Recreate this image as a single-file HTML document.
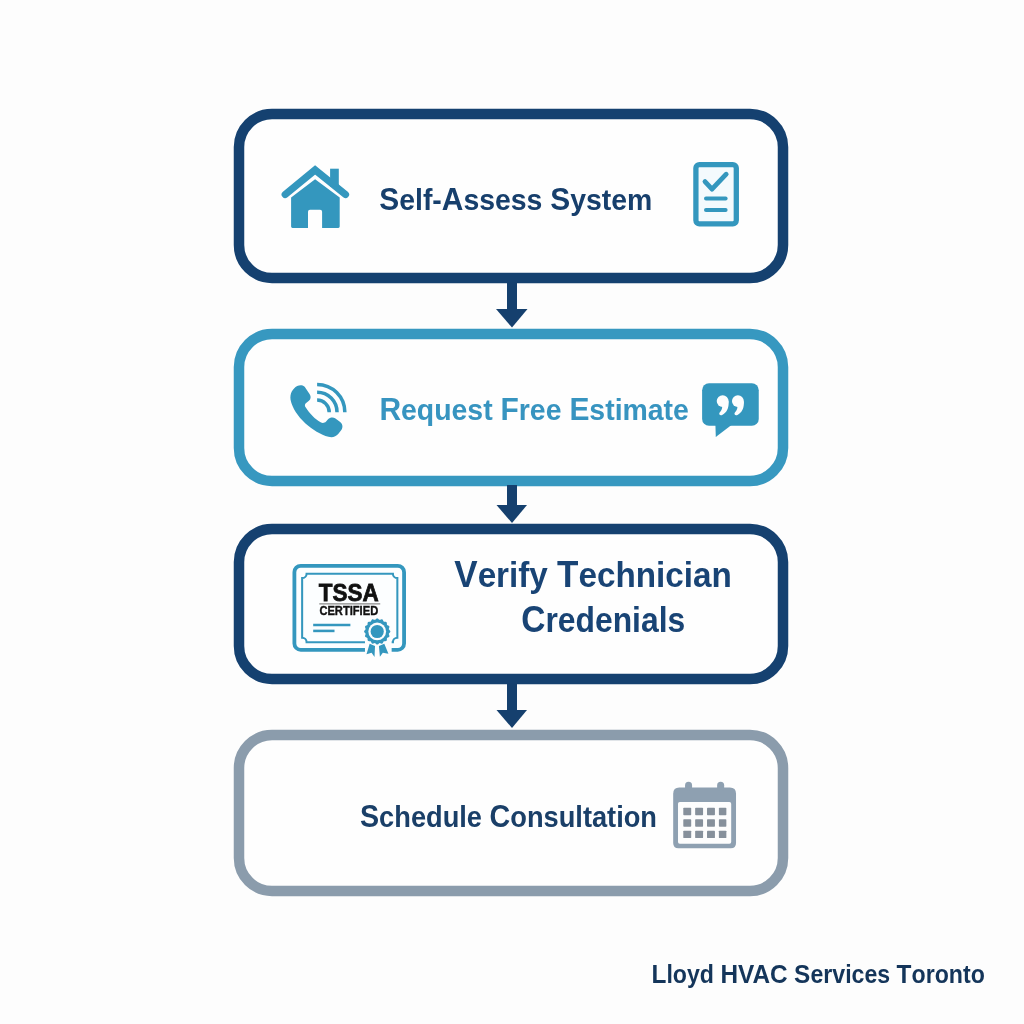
<!DOCTYPE html>
<html><head><meta charset="utf-8">
<style>
html,body{margin:0;padding:0;width:1024px;height:1024px;overflow:hidden;background:#fdfdfd;}
svg{position:absolute;left:0;top:0;will-change:transform;}
text{font-family:"Liberation Sans",sans-serif;font-weight:bold;}
</style></head>
<body>
<svg width="1024" height="1024" viewBox="0 0 1024 1024">
<rect x="0" y="0" width="1024" height="1024" fill="#fdfdfd"/>
<!-- boxes -->
<rect x="239" y="114" width="544" height="164" rx="33" ry="33" fill="#fefefe" stroke="#154170" stroke-width="10.5"/>
<rect x="239" y="334" width="544" height="147" rx="33" ry="33" fill="#fefefe" stroke="#3798c0" stroke-width="10.5"/>
<rect x="239" y="529" width="544" height="150" rx="33" ry="33" fill="#fefefe" stroke="#154170" stroke-width="10.5"/>
<rect x="239" y="735" width="544" height="156" rx="33" ry="33" fill="#fefefe" stroke="#8b9cac" stroke-width="10.5"/>
<!-- arrows -->
<g fill="#15406e">
<rect x="507" y="282" width="10" height="28"/><polygon points="496,309 527.5,309 512,327.5"/>
<rect x="507" y="485" width="10" height="21"/><polygon points="496.5,505 527,505 512,523"/>
<rect x="507" y="683" width="10" height="28"/><polygon points="496.5,710 527,710 512,728"/>
</g>

<!-- house icon -->
<g fill="#3497be">
<polyline points="285.2,194.5 315.1,169.9 345.5,194.5" fill="none" stroke="#3497be" stroke-width="7.2" stroke-linecap="round" stroke-linejoin="miter"/>
<rect x="330.1" y="168.7" width="8.7" height="18"/>
<path d="M291.1,197.4 L315.1,179.3 L339.7,197.4 L339.7,226.5 Q339.7,227.9 338.3,227.9 L322.1,227.9 L322.1,211.7 Q322.1,209.7 320.1,209.7 L310,209.7 Q308,209.7 308,211.7 L308,227.9 L292.5,227.9 Q291.1,227.9 291.1,226.5 Z"/>
</g>
<!-- checklist icon -->
<g fill="none" stroke="#3497be" stroke-linecap="round" stroke-linejoin="round">
<rect x="695.9" y="164.6" width="40.4" height="59.2" rx="3.5" fill="#f4fafd" stroke-width="5.3"/>
<polyline points="705,181.6 712,189.2 726.2,174.2" stroke-width="4.8" stroke-linecap="round" stroke-linejoin="round"/>
<line x1="706" y1="198.4" x2="725.6" y2="198.4" stroke-width="4"/>
<line x1="706" y1="210" x2="725.6" y2="210" stroke-width="4"/>
</g>
<text x="379.3" y="210.1" font-size="31.6" fill="#173f6c" textLength="273" lengthAdjust="spacingAndGlyphs">S<tspan font-size="30.02">elf-</tspan>A<tspan font-size="30.02">ssess </tspan>S<tspan font-size="30.02">ystem</tspan></text>

<!-- phone icon -->
<g transform="translate(280,370) scale(0.078125)">
<path fill="#3497be" d="M265,195 C290,190 310,205 320,220 L380,310 C400,340 395,375 370,395 L330,425 C315,440 315,460 330,480 C380,560 450,630 520,670 C545,685 570,680 590,660 L615,630 C640,605 680,600 710,620 L770,665 C810,695 805,745 780,775 L745,820 C715,855 670,870 620,855 C430,800 180,600 135,380 C125,300 160,240 220,205 C235,197 250,195 265,195 Z"/>
<g fill="none" stroke="#3497be" stroke-width="45">
<path d="M475,385 A155,155 0 0 1 630,540"/>
<path d="M475,285 A255,255 0 0 1 730,540"/>
<path d="M475,185 A355,355 0 0 1 830,540"/>
</g>
</g>
<text x="379.4" y="420.3" font-size="30.5" fill="#3794c0" textLength="309.5" lengthAdjust="spacingAndGlyphs">R<tspan font-size="28.97">equest </tspan>F<tspan font-size="28.97">ree </tspan>E<tspan font-size="28.97">stimate</tspan></text>
<!-- bubble icon -->
<g transform="translate(690,370) scale(0.078125)">
<rect x="155" y="170" width="725" height="545" rx="88" fill="#3497be"/>
<polygon points="325,690 548,690 330,858" fill="#3497be"/>
<g fill="#fdfdfd">
<circle cx="418" cy="398" r="76"/>
<path d="M494,398 C502,485 468,552 412,575 C382,586 362,562 382,540 C402,518 414,495 412,460 Z"/>
<circle cx="613" cy="398" r="76"/>
<path d="M689,398 C697,485 663,552 607,575 C577,586 557,562 577,540 C597,518 609,495 607,460 Z"/>
</g>
</g>

<!-- certificate -->
<g transform="translate(285,555) scale(0.12695)">
<rect x="74" y="85" width="864" height="662" rx="50" fill="#fcfeff" stroke="#3497be" stroke-width="30"/>
<path d="M170,147 L850,147 A35,35 0 0 0 885,182 L885,652 A35,35 0 0 0 850,687 L170,687 A35,35 0 0 0 135,652 L135,182 A35,35 0 0 0 170,147 Z" fill="none" stroke="#3497be" stroke-width="16"/>
<text x="266" y="359" font-size="194" fill="#111" stroke="#111" stroke-width="6" textLength="472" lengthAdjust="spacingAndGlyphs">TSSA</text>
<line x1="270" y1="385" x2="750" y2="385" stroke="#888" stroke-width="9"/>
<text x="271" y="469" font-size="94" fill="#111" stroke="#111" stroke-width="3" textLength="463" lengthAdjust="spacingAndGlyphs">CERTIFIED</text>
<line x1="222" y1="552" x2="515" y2="552" stroke="#3497be" stroke-width="20"/>
<line x1="222" y1="598" x2="390" y2="598" stroke="#3497be" stroke-width="20"/>
<rect x="630" y="640" width="210" height="140" fill="#fdfdfd"/>
</g>
<g transform="translate(355,610) scale(0.048828)">
<circle cx="455" cy="440" r="290" fill="#fdfdfd"/>
<g fill="#3497be">
<path d="M300,690 L410,735 L400,965 L340,875 L235,905 Z"/>
<path d="M600,690 L490,735 L510,955 L570,875 L685,895 Z"/>
</g>
<path d="M455.0,171.0 L460.3,171.7 L465.5,173.7 L470.5,176.8 L475.4,180.8 L480.1,185.2 L484.6,189.8 L489.0,194.0 L493.4,197.5 L497.8,200.2 L502.4,201.7 L507.2,202.0 L512.3,201.3 L517.7,199.7 L523.4,197.5 L529.3,195.0 L535.3,192.7 L541.4,190.9 L547.2,190.0 L552.8,190.1 L557.9,191.5 L562.5,194.1 L566.6,198.0 L570.1,202.8 L573.0,208.3 L575.7,214.2 L578.1,220.1 L580.6,225.7 L583.3,230.7 L586.4,234.8 L590.0,238.0 L594.3,240.1 L599.3,241.4 L604.9,242.0 L611.0,242.1 L617.4,242.1 L623.9,242.3 L630.1,242.9 L635.9,244.3 L641.0,246.5 L645.2,249.8 L648.5,254.0 L650.7,259.1 L652.1,264.9 L652.7,271.1 L652.9,277.6 L652.9,284.0 L653.0,290.1 L653.6,295.7 L654.9,300.7 L657.0,305.0 L660.2,308.6 L664.3,311.7 L669.3,314.4 L674.9,316.9 L680.8,319.3 L686.7,322.0 L692.2,324.9 L697.0,328.4 L700.9,332.5 L703.5,337.1 L704.9,342.2 L705.0,347.8 L704.1,353.6 L702.3,359.7 L700.0,365.7 L697.5,371.6 L695.3,377.3 L693.7,382.7 L693.0,387.8 L693.3,392.6 L694.8,397.2 L697.5,401.6 L701.0,406.0 L705.2,410.4 L709.8,414.9 L714.2,419.6 L718.2,424.5 L721.3,429.5 L723.3,434.7 L724.0,440.0 L723.3,445.3 L721.3,450.5 L718.2,455.5 L714.2,460.4 L709.8,465.1 L705.2,469.6 L701.0,474.0 L697.5,478.4 L694.8,482.8 L693.3,487.4 L693.0,492.2 L693.7,497.3 L695.3,502.7 L697.5,508.4 L700.0,514.3 L702.3,520.3 L704.1,526.4 L705.0,532.2 L704.9,537.8 L703.5,542.9 L700.9,547.5 L697.0,551.6 L692.2,555.1 L686.7,558.0 L680.8,560.7 L674.9,563.1 L669.3,565.6 L664.3,568.3 L660.2,571.4 L657.0,575.0 L654.9,579.3 L653.6,584.3 L653.0,589.9 L652.9,596.0 L652.9,602.4 L652.7,608.9 L652.1,615.1 L650.7,620.9 L648.5,626.0 L645.2,630.2 L641.0,633.5 L635.9,635.7 L630.1,637.1 L623.9,637.7 L617.4,637.9 L611.0,637.9 L604.9,638.0 L599.3,638.6 L594.3,639.9 L590.0,642.0 L586.4,645.2 L583.3,649.3 L580.6,654.3 L578.1,659.9 L575.7,665.8 L573.0,671.7 L570.1,677.2 L566.6,682.0 L562.5,685.9 L557.9,688.5 L552.8,689.9 L547.2,690.0 L541.4,689.1 L535.3,687.3 L529.3,685.0 L523.4,682.5 L517.7,680.3 L512.3,678.7 L507.2,678.0 L502.4,678.3 L497.8,679.8 L493.4,682.5 L489.0,686.0 L484.6,690.2 L480.1,694.8 L475.4,699.2 L470.5,703.2 L465.5,706.3 L460.3,708.3 L455.0,709.0 L449.7,708.3 L444.5,706.3 L439.5,703.2 L434.6,699.2 L429.9,694.8 L425.4,690.2 L421.0,686.0 L416.6,682.5 L412.2,679.8 L407.6,678.3 L402.8,678.0 L397.7,678.7 L392.3,680.3 L386.6,682.5 L380.7,685.0 L374.7,687.3 L368.6,689.1 L362.8,690.0 L357.2,689.9 L352.1,688.5 L347.5,685.9 L343.4,682.0 L339.9,677.2 L337.0,671.7 L334.3,665.8 L331.9,659.9 L329.4,654.3 L326.7,649.3 L323.6,645.2 L320.0,642.0 L315.7,639.9 L310.7,638.6 L305.1,638.0 L299.0,637.9 L292.6,637.9 L286.1,637.7 L279.9,637.1 L274.1,635.7 L269.0,633.5 L264.8,630.2 L261.5,626.0 L259.3,620.9 L257.9,615.1 L257.3,608.9 L257.1,602.4 L257.1,596.0 L257.0,589.9 L256.4,584.3 L255.1,579.3 L253.0,575.0 L249.8,571.4 L245.7,568.3 L240.7,565.6 L235.1,563.1 L229.2,560.7 L223.3,558.0 L217.8,555.1 L213.0,551.6 L209.1,547.5 L206.5,542.9 L205.1,537.8 L205.0,532.2 L205.9,526.4 L207.7,520.3 L210.0,514.3 L212.5,508.4 L214.7,502.7 L216.3,497.3 L217.0,492.2 L216.7,487.4 L215.2,482.8 L212.5,478.4 L209.0,474.0 L204.8,469.6 L200.2,465.1 L195.8,460.4 L191.8,455.5 L188.7,450.5 L186.7,445.3 L186.0,440.0 L186.7,434.7 L188.7,429.5 L191.8,424.5 L195.8,419.6 L200.2,414.9 L204.8,410.4 L209.0,406.0 L212.5,401.6 L215.2,397.2 L216.7,392.6 L217.0,387.8 L216.3,382.7 L214.7,377.3 L212.5,371.6 L210.0,365.7 L207.7,359.7 L205.9,353.6 L205.0,347.8 L205.1,342.2 L206.5,337.1 L209.1,332.5 L213.0,328.4 L217.8,324.9 L223.3,322.0 L229.2,319.3 L235.1,316.9 L240.7,314.4 L245.7,311.7 L249.8,308.6 L253.0,305.0 L255.1,300.7 L256.4,295.7 L257.0,290.1 L257.1,284.0 L257.1,277.6 L257.3,271.1 L257.9,264.9 L259.3,259.1 L261.5,254.0 L264.8,249.8 L269.0,246.5 L274.1,244.3 L279.9,242.9 L286.1,242.3 L292.6,242.1 L299.0,242.1 L305.1,242.0 L310.7,241.4 L315.7,240.1 L320.0,238.0 L323.6,234.8 L326.7,230.7 L329.4,225.7 L331.9,220.1 L334.3,214.2 L337.0,208.3 L339.9,202.8 L343.4,198.0 L347.5,194.1 L352.1,191.5 L357.2,190.1 L362.8,190.0 L368.6,190.9 L374.7,192.7 L380.7,195.0 L386.6,197.5 L392.3,199.7 L397.7,201.3 L402.8,202.0 L407.6,201.7 L412.2,200.2 L416.6,197.5 L421.0,194.0 L425.4,189.8 L429.9,185.2 L434.6,180.8 L439.5,176.8 L444.5,173.7 L449.7,171.7Z" fill="#3497be"/>
<circle cx="455" cy="440" r="182" fill="#fdfdfd"/>
<circle cx="455" cy="440" r="135" fill="#3497be"/>
</g>
<text x="454.3" y="587" font-size="37.5" fill="#194475" textLength="277.5" lengthAdjust="spacingAndGlyphs">V<tspan font-size="35.62">erify </tspan>T<tspan font-size="35.62">echnician</tspan></text>
<text x="521.2" y="632" font-size="37.5" fill="#194475" textLength="164" lengthAdjust="spacingAndGlyphs">C<tspan font-size="35.62">redenials</tspan></text>

<!-- calendar -->
<g transform="translate(660,770) scale(0.087890625)">
<path d="M150,270 Q150,200 220,200 L795,200 Q865,200 865,270 L865,830 Q865,890 805,890 L210,890 Q150,890 150,830 Z" fill="#8ea0b1"/>
<rect x="205" y="365" width="605" height="475" rx="20" fill="#fdfdfd"/>
<rect x="285" y="135" width="80" height="100" rx="40" fill="#8ea0b1"/>
<rect x="650" y="135" width="80" height="100" rx="40" fill="#8ea0b1"/>
<g fill="#86909b">
<rect x="265" y="430" width="90" height="85" rx="8"/><rect x="400" y="430" width="90" height="85" rx="8"/><rect x="535" y="430" width="90" height="85" rx="8"/><rect x="670" y="430" width="85" height="85" rx="8"/>
<rect x="265" y="560" width="90" height="85" rx="8"/><rect x="400" y="560" width="90" height="85" rx="8"/><rect x="535" y="560" width="90" height="85" rx="8"/><rect x="670" y="560" width="85" height="85" rx="8"/>
<rect x="265" y="690" width="90" height="85" rx="8"/><rect x="400" y="690" width="90" height="85" rx="8"/><rect x="535" y="690" width="90" height="85" rx="8"/><rect x="670" y="690" width="85" height="85" rx="8"/>
</g>
</g>
<text x="360" y="826.5" font-size="31.3" fill="#1a3f68" textLength="297" lengthAdjust="spacingAndGlyphs">S<tspan font-size="29.73">chedule </tspan>C<tspan font-size="29.73">onsultation</tspan></text>

<text x="651.5" y="983.2" font-size="26.3" fill="#14355a" textLength="333.3" lengthAdjust="spacingAndGlyphs">L<tspan font-size="24.98">loyd </tspan>HVAC<tspan font-size="24.98"> </tspan>S<tspan font-size="24.98">ervices </tspan>T<tspan font-size="24.98">oronto</tspan></text>
</svg>
</body></html>
